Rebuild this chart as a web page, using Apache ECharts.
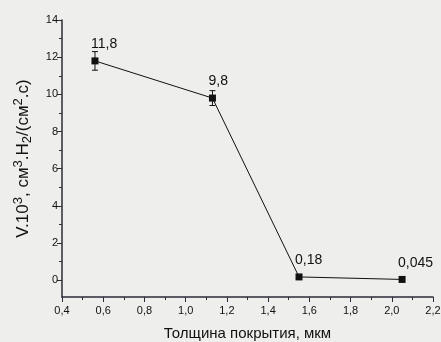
<!DOCTYPE html>
<html>
<head>
<meta charset="utf-8">
<script src="https://cdn.jsdelivr.net/npm/echarts@6/dist/echarts.min.js"></script>
<style>
html,body{margin:0;padding:0;background:#eeeeec;}
#c{width:441px;height:342px;}
</style>
</head>
<body>
<div id="c"></div>
<script>
// Data
const thickness = [0.56, 1.13, 1.55, 2.05];          // Толщина покрытия, мкм
const volume = [11.8, 9.8, 0.18, 0.045];            // V·10^3
const errors = [0.5, 0.4, 0, 0];                     // error bar half-widths
const yMajorTicks = [0, 2, 4, 6, 8, 10, 12, 14];
const yMinorTicks = [1, 3, 5, 7, 9, 11, 13];

const fmtComma = v => String(v).replace('.', ',');
const ink = '#111111';
const axisCol = '#2e2a36';
const FF = 'Liberation Sans, Arial, sans-serif';

const chart = echarts.init(document.getElementById('c'), null, {renderer: 'canvas'});

const yName = '{n|V.10}{sup|3}{n|, см}{sup|3}{n|.H}{sub|2}{n|/(см}{sup|2}{n|.с)}';

chart.setOption({
  backgroundColor: '#eeeeec',
  animation: false,
  grid: {left: 62, right: 8, top: 20, bottom: 45, outerBoundsMode: 'none', containLabel: false},
  xAxis: {
    type: 'value', min: 0.4, max: 2.2, interval: 0.2,
    name: 'Толщина покрытия, мкм', nameLocation: 'middle', nameGap: 29,
    nameTextStyle: {fontFamily: FF, fontSize: 15, color: ink},
    axisLine: {show: true, onZero: false, lineStyle: {color: axisCol, width: 1.5}},
    axisTick: {show: true, inside: false, length: 5, lineStyle: {color: axisCol}},
    minorTick: {show: true, splitNumber: 2, length: 3, lineStyle: {color: axisCol}},
    splitLine: {show: false},
    axisLabel: {fontFamily: FF, fontSize: 11, color: ink, margin: 8,
      formatter: v => v.toFixed(1).replace('.', ',')}
  },
  yAxis: [{
    type: 'value', min: -0.9, max: 14,
    name: yName, nameLocation: 'middle', nameGap: 20, nameRotate: 90,
    nameTextStyle: {
      color: ink,
      rich: {
        n: {fontFamily: FF, fontSize: 17, color: ink, verticalAlign: 'middle', lineHeight: 22},
        sup: {fontFamily: FF, fontSize: 13, color: ink, verticalAlign: 'top', lineHeight: 22, padding: [0, 0, 10, 0]},
        sub: {fontFamily: FF, fontSize: 13, color: ink, verticalAlign: 'bottom', lineHeight: 22, padding: [7, 0, 0, 0]}
      }
    },
    axisLine: {show: true, onZero: false, lineStyle: {color: axisCol, width: 1.5}},
    axisTick: {show: true, length: 5, customValues: yMajorTicks, lineStyle: {color: axisCol}},
    axisLabel: {fontFamily: FF, fontSize: 11, color: ink, margin: 4, customValues: yMajorTicks},
    splitLine: {show: false}
  }, {
    type: 'value', min: -0.9, max: 14, position: 'left',
    axisLine: {show: false},
    axisTick: {show: true, length: 3, customValues: yMinorTicks, lineStyle: {color: axisCol}},
    axisLabel: {show: false},
    splitLine: {show: false}
  }],
  series: [{
    type: 'line',
    yAxisIndex: 0,
    data: thickness.map((x, i) => [x, volume[i]]),
    symbol: 'rect', symbolSize: 7,
    itemStyle: {color: ink},
    lineStyle: {color: ink, width: 1},
    label: {
      show: true, position: 'top', align: 'left', distance: 6, offset: [-4, 0],
      fontFamily: FF, fontSize: 14, color: ink,
      formatter: p => fmtComma(p.value[1])
    },
    z: 3
  }, {
    type: 'custom',
    yAxisIndex: 0,
    data: thickness.map((x, i) => [x, volume[i] - errors[i], volume[i] + errors[i]]),
    renderItem: (params, api) => {
      const x = api.value(0);
      const lo = api.coord([x, api.value(1)]);
      const hi = api.coord([x, api.value(2)]);
      if (Math.abs(hi[1] - lo[1]) < 1) return {type: 'group', children: []};
      const w = 3;
      const st = {stroke: ink, lineWidth: 1};
      return {type: 'group', children: [
        {type: 'line', shape: {x1: lo[0], y1: lo[1], x2: hi[0], y2: hi[1]}, style: st},
        {type: 'line', shape: {x1: lo[0] - w, y1: lo[1], x2: lo[0] + w, y2: lo[1]}, style: st},
        {type: 'line', shape: {x1: hi[0] - w, y1: hi[1], x2: hi[0] + w, y2: hi[1]}, style: st}
      ]};
    },
    z: 2
  }]
});
</script>
</body>
</html>
